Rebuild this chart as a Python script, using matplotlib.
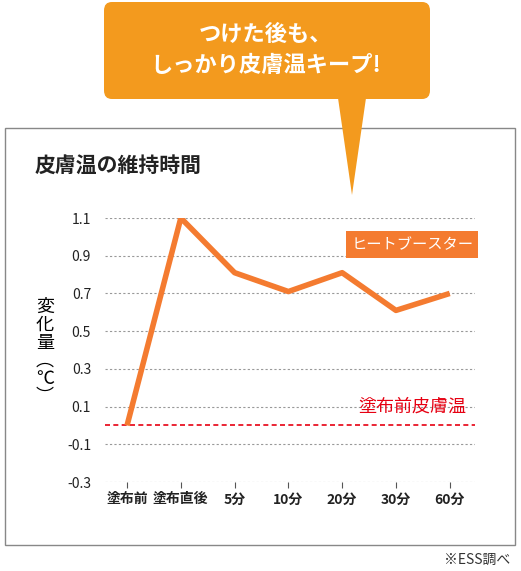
import matplotlib
matplotlib.use("Agg")
import matplotlib.pyplot as plt
from matplotlib.patches import FancyBboxPatch, Polygon, Rectangle

plt.rcParams['font.family'] = ['Noto Sans CJK JP', 'DejaVu Sans']

categories = ["塗布前", "塗布直後", "5分", "10分", "20分", "30分", "60分"]
values = [0.0, 1.1, 0.81, 0.71, 0.81, 0.61, 0.70]
yticks = [1.1, 0.9, 0.7, 0.5, 0.3, 0.1, -0.1, -0.3]

W, H = 521, 571
fig = plt.figure(figsize=(W/100, H/100), dpi=100)
def fx(x): return x / W
def fy(y): return 1 - y / H

fig.patches.append(Rectangle((fx(5), fy(545)), fx(515)-fx(5), fy(128)-fy(545),
                             transform=fig.transFigure, fill=False, ec="#888888", lw=1))

orange = "#F39A1E"
fig.patches.append(FancyBboxPatch((fx(104), fy(99)), fx(430)-fx(104), fy(2)-fy(99),
                                  boxstyle="round,pad=0,rounding_size=0.015",
                                  transform=fig.transFigure, fc=orange, ec="none"))
fig.patches.append(Polygon([(fx(338), fy(98)), (fx(366), fy(98)), (fx(352), fy(195))],
                           transform=fig.transFigure, fc=orange, ec="none"))
fig.text(fx(266), fy(50), "つけた後も、\nしっかり皮膚温キープ!", color="white", fontsize=16,
         fontweight="bold", ha="center", va="center", linespacing=1.45)

fig.text(fx(35), fy(165), "皮膚温の維持時間", fontsize=15, fontweight="bold", va="center", color="#222222")

ax = fig.add_axes([fx(105), fy(482), fx(475)-fx(105), fy(218)-fy(482)])
x = list(range(len(categories)))
ax.set_xlim(-0.41, 6.47)
ax.set_ylim(-0.3, 1.1)
for t in yticks:
    ax.axhline(t, color="#999999", lw=0.8, ls=(0, (2, 2)), zorder=1)
ax.axhline(0, color="#E60012", lw=1.2, ls=(0, (3, 2)), zorder=2)
ax.plot(x, values, color="#F47B30", lw=4, zorder=3, solid_capstyle="butt")
for s in ax.spines.values():
    s.set_visible(False)
ax.set_yticks(yticks)
ax.set_yticklabels([f"{v:.1f}" for v in yticks], fontsize=10, color="#222222")
ax.set_xticks(x)
ax.set_xticklabels(categories, fontsize=10, fontweight="bold", color="#222222")
ax.tick_params(axis="x", length=4, color="#555555")
ax.tick_params(axis="y", length=0, pad=10)
ax.text(6.3, 0.05, "塗布前皮膚温", color="#E60012", fontsize=13, ha="right", va="bottom")
ax.text(5.3, 0.96, "ヒートブースター", color="white", fontsize=11, ha="center", va="center",
        bbox=dict(boxstyle="square,pad=0.35", fc="#F47B30", ec="none"))

fig.text(fx(45), fy(352), "変\n化\n量\n︵\n℃\n︶", fontsize=13, ha="center", va="center", linespacing=1.0)
fig.text(fx(510), fy(560), "※ESS調べ", fontsize=10, ha="right", va="center", color="#333333")

fig.savefig("out.png", dpi=100)
